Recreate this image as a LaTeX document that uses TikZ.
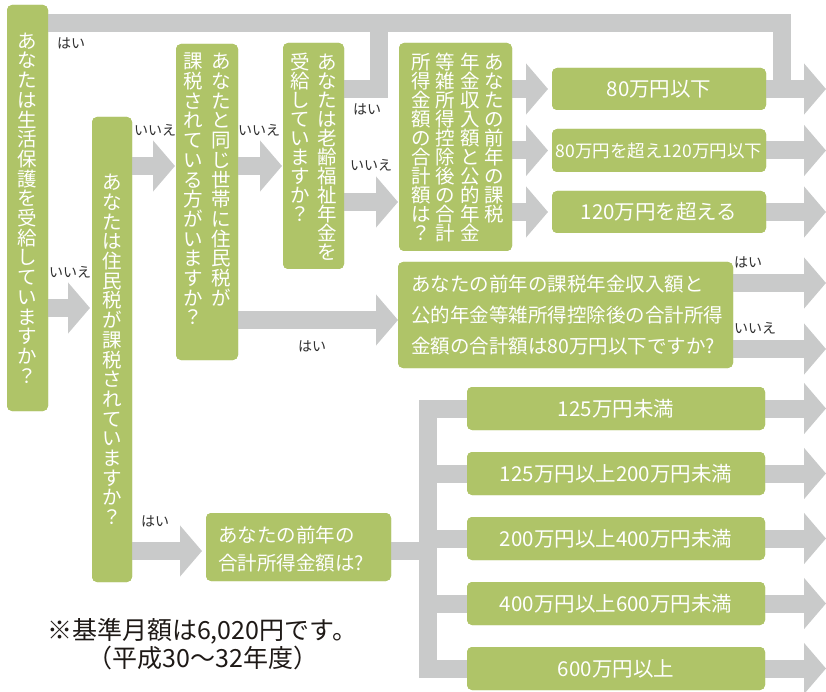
\documentclass[tikz,border=0pt]{standalone}
\usepackage{fontspec}
\setmainfont{Noto Sans CJK JP}
\usetikzlibrary{arrows.meta}
\definecolor{boxgreen}{RGB}{175,196,104}
\definecolor{arrowgray}{RGB}{201,202,202}
\definecolor{labelgray}{RGB}{45,45,45}
\definecolor{notecol}{RGB}{30,25,22}
\makeatletter
\def\vcol#1{\vtop{\lineskiplimit=-100pt\lineskip=0pt\vcol@i#1\relax}}
\def\vcol@i#1{\ifx#1\relax\else\hbox to 1em{\hss#1\hss}\expandafter\vcol@i\fi}
\makeatother
\begin{document}
\begin{tikzpicture}[x=1pt,y=-1pt,
  gbox/.style={fill=boxgreen, rounded corners=5pt, inner sep=0pt, outer sep=0pt, text=white},
  flow/.style={draw=arrowgray, line width=18pt},
  arr/.style={flow, -{Triangle[length=22pt,width=50pt]}},
  lbl/.style={text=labelgray, inner sep=0pt, font=\fontsize{14pt}{15pt}\selectfont},
  vt/.style={text=white, inner sep=0pt, font=\fontsize{19.5pt}{19.7pt}\selectfont},
  rtxt/.style={font=\fontsize{20.5pt}{22pt}\selectfont},
  rbox/.style={gbox, minimum height=43pt},
  note/.style={text=notecol, inner sep=0pt, font=\fontsize{25pt}{27pt}\selectfont}]
\useasboundingbox (0,0) rectangle (826,692);
% reference coordinates
\coordinate (E) at (826,0);
\coordinate (T) at (428,0);
\coordinate (yTop) at (0,23);
\coordinate (y308) at (0,308);
\coordinate (y166) at (0,166);
\coordinate (y202) at (0,202);
\coordinate (y320) at (0,320);
\coordinate (y283) at (0,283);
\coordinate (y349) at (0,349);
\coordinate (y551) at (0,551);
% boxes (shapes)
\node[gbox, minimum width=41pt, minimum height=406pt] (b1) at (27.5,208) {};
\node[gbox, minimum width=40pt, minimum height=465pt] (b2) at (112,349.5) {};
\node[gbox, minimum width=62pt, minimum height=316pt] (b3) at (207,202) {};
\node[gbox, minimum width=61pt, minimum height=226pt] (b4) at (313.5,156) {};
\node[gbox, minimum width=113pt, minimum height=208pt] (b5) at (455.5,147) {};
\node[gbox, minimum width=335pt, minimum height=106pt] (b6) at (565.5,315) {};
\node[gbox, minimum width=185pt, minimum height=68pt] (b7) at (298.5,547) {};
\node[rbox, minimum width=214pt, minimum height=42pt] (R1) at (659,89) {};
\node[rbox, minimum width=214pt] (R2) at (659,150.5) {};
\node[rbox, minimum width=214pt, minimum height=42pt] (R3) at (659,212) {};
\node[rbox, minimum width=298pt] (B1) at (616,408.5) {};
\node[rbox, minimum width=298pt] (B2) at (616,473.5) {};
\node[rbox, minimum width=298pt] (B3) at (616,538.5) {};
\node[rbox, minimum width=298pt] (B4) at (616,603.5) {};
\node[rbox, minimum width=298pt] (B5) at (616,668.5) {};
% connectors
\draw[flow] (b1.east |- yTop) -| ([xshift=16pt]R1.east);
\draw[flow] (b4.east |- R1.east) -| ([xshift=35pt]b4.east |- yTop);
\draw[arr, shorten >=2pt] (b1.east |- y308) -- (b2.west |- y308);
\draw[arr, shorten >=1pt] (b2.east |- y166) -- (b3.west |- y166);
\draw[arr, shorten >=1pt] (b3.east |- y166) -- (b4.west |- y166);
\draw[arr, shorten >=1pt] (b4.east |- y202) -- (b5.west |- y202);
\draw[arr] (b3.east |- y320) -- (b6.west |- y320);
\draw[arr, shorten >=4pt] (b5.east |- R1.west) -- (R1.west);
\draw[arr, shorten >=4pt] (b5.east |- R2.west) -- (R2.west);
\draw[arr, shorten >=4pt] (b5.east |- R3.west) -- (R3.west);
\draw[arr] (R1.east) -- (E |- R1.east);
\draw[arr] (R2.east) -- (E |- R2.east);
\draw[arr] (R3.east) -- (E |- R3.east);
\draw[arr] (b6.east |- y283) -- (E |- y283);
\draw[arr] (b6.east |- y349) -- (E |- y349);
\draw[arr, shorten >=4pt] (b2.east |- y551) -- (b7.west |- y551);
\draw[flow] (b7.east |- y551) -- (T |- y551);
\draw[flow, line cap=rect] (T |- B1.west) -- (T |- B5.west);
\foreach \b in {B1,B2,B3,B4,B5}{
  \draw[flow] (T |- \b.west) -- (\b.west);
  \draw[arr] (\b.east) -- (E |- \b.east);
}
% boxes on top of the connectors
\foreach \n in {b1,b2,b3,b4,b5,b6,b7,R1,R2,R3,B1,B2,B3,B4,B5}{
  \fill[boxgreen, rounded corners=5pt] (\n.north west) rectangle (\n.south east);
}
\node[rtxt, text=white] (R1t) at (R1) {80万円以下};
\node[text=white, font=\fontsize{17.5pt}{20pt}\selectfont] (R2t) at (R2) {80万円を超え120万円以下};
\node[rtxt, text=white] (R3t) at (R3) {120万円を超える};
\node[rtxt, text=white] (B1t) at (B1) {125万円未満};
\node[rtxt, text=white] (B2t) at (B2) {125万円以上200万円未満};
\node[rtxt, text=white] (B3t) at (B3) {200万円以上400万円未満};
\node[rtxt, text=white] (B4t) at (B4) {400万円以上600万円未満};
\node[rtxt, text=white] (B5t) at (B5) {600万円以上};
% vertical texts
\node[vt] (t1) at (b1.center) {\vcol{あなたは生活保護を受給していますか？}};
\node[vt] (t2) at (b2.center) {\vcol{あなたは住民税が課税されていますか？}};
\node[vt, anchor=north] (t3) at ([yshift=-9pt]b3.north) {\vcol{課税されている方がいますか？}\hspace{8pt}\vcol{あなたと同じ世帯に住民税が}};
\node[vt, anchor=north, font=\fontsize{19.5pt}{19pt}\selectfont] (t4) at ([yshift=-10pt]b4.north) {\vcol{受給していますか？}\hspace{8pt}\vcol{あなたは老齢福祉年金を}};
\node[vt, anchor=north, font=\fontsize{19.5pt}{19pt}\selectfont] (t5) at ([xshift=2pt,yshift=-10pt]b5.north) {\vcol{所得金額の合計額は？}\hspace{5pt}\vcol{等雑所得控除後の合計}\hspace{5pt}\vcol{年金収入額と公的年金}\hspace{5pt}\vcol{あなたの前年の課税}};
% horizontal texts
\node[text=white, inner sep=0pt, anchor=west, align=left, font=\fontsize{19.5pt}{31pt}\selectfont] (t6) at ([xshift=13pt]b6.west) {あなたの前年の課税年金収入額と\\公的年金等雑所得控除後の合計所得\\金額の合計額は80万円以下ですか?};
\node[text=white, inner sep=0pt, anchor=west, align=left, font=\fontsize{19.5pt}{28pt}\selectfont] (t7) at ([xshift=12pt,yshift=-2pt]b7.west) {あなたの前年の\\合計所得金額は?};
% labels
\node[lbl] (l1) at (71,43) {はい};
\node[lbl] (l2) at (70,272) {いいえ};
\node[lbl] (l3) at (155,130) {いいえ};
\node[lbl] (l4) at (259,130) {いいえ};
\node[lbl] (l5) at (367,109) {はい};
\node[lbl] (l6) at (371,165) {いいえ};
\node[lbl] (l7) at (312,346) {はい};
\node[lbl] (l8) at (155,521) {はい};
\node[lbl] (l9) at (748,262) {はい};
\node[lbl] (l10) at (755,328) {いいえ};
% note
\node[note] (n1) at (202,631) {※基準月額は6,020円です。};
\node[note] (n2) at (203,658) {（平成30〜32年度）};
\end{tikzpicture}
\end{document}
